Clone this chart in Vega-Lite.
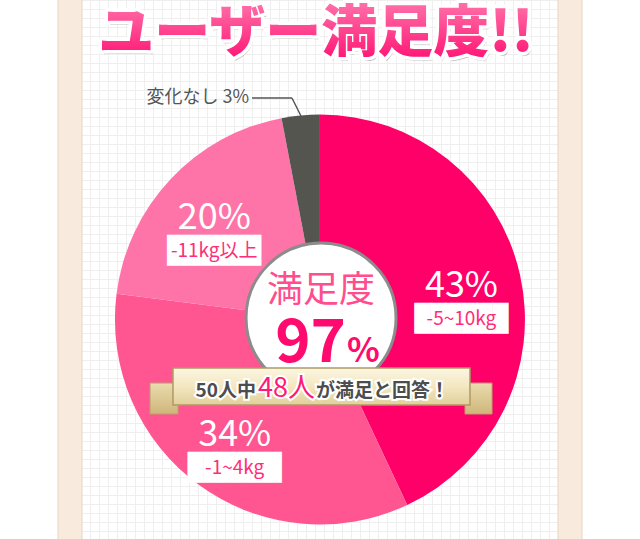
{
  "$schema": "https://vega.github.io/schema/vega-lite/v6.json",
  "width": 639,
  "height": 540,
  "autosize": {"type": "none"},
  "padding": 0,
  "background": "#ffffff",
  "config": {"view": {"stroke": null}, "font": "Noto Sans CJK JP"},
  "datasets": {
    "satisfaction": [
      {"idx": 1, "group": "-5~10kg", "share": 43, "label": "43%"},
      {"idx": 2, "group": "-1~4kg", "share": 34, "label": "34%"},
      {"idx": 3, "group": "-11kg以上", "share": 20, "label": "20%"},
      {"idx": 4, "group": "変化なし", "share": 3, "label": "3%"}
    ],
    "one": [{}]
  },
  "data": {"name": "satisfaction"},
  "layer": [
    {
      "data": {"name": "one"},
      "mark": {"type": "rect", "color": "#ffffff"},
      "encoding": {
        "x": {"datum": 0, "type": "quantitative",
          "scale": {"domain": [0, 71], "nice": false, "zero": false},
          "axis": {"grid": true, "tickCount": 71, "domain": false, "ticks": false, "labels": false, "title": null, "gridColor": "#efefef", "gridWidth": 1}},
        "x2": {"datum": 6.44},
        "y": {"datum": 0, "type": "quantitative",
          "scale": {"domain": [0, 60], "reverse": true, "nice": false, "zero": false},
          "axis": {"grid": true, "tickCount": 60, "domain": false, "ticks": false, "labels": false, "title": null, "gridColor": "#efefef", "gridWidth": 1}},
        "y2": {"datum": 60}
      }
    },
    {
      "data": {"name": "one"},
      "mark": {"type": "rect", "color": "#ffffff"},
      "encoding": {"x": {"datum": 64.67}, "x2": {"datum": 71}, "y": {"datum": 0}, "y2": {"datum": 60}}
    },
    {
      "data": {"name": "one"},
      "mark": {"type": "rect", "fill": "#f8ebdd", "stroke": "#e6d6c4", "strokeWidth": 1},
      "encoding": {"x": {"datum": 6.44}, "x2": {"datum": 9.11}, "y": {"datum": -1}, "y2": {"datum": 61}}
    },
    {
      "data": {"name": "one"},
      "mark": {"type": "rect", "fill": "#f8ebdd", "stroke": "#e6d6c4", "strokeWidth": 1},
      "encoding": {"x": {"datum": 62.0}, "x2": {"datum": 64.67}, "y": {"datum": -1}, "y2": {"datum": 61}}
    },
    {
      "mark": {"type": "arc", "outerRadius": 205},
      "encoding": {
        "x": {"datum": 35.55},
        "y": {"datum": 35.5},
        "theta": {"field": "share", "type": "quantitative", "stack": true},
        "order": {"field": "idx", "type": "quantitative"},
        "color": {"field": "group", "type": "nominal",
          "scale": {"domain": ["-5~10kg", "-1~4kg", "-11kg以上", "変化なし"],
                    "range": ["#ff0068", "#ff5590", "#ff74a8", "#555550"]},
          "legend": null}
      }
    },
    {
      "data": {"name": "one"},
      "mark": {"type": "point", "shape": "circle", "filled": true, "fill": "#ffffff", "stroke": "#8c8c8c", "strokeWidth": 3, "opacity": 1, "size": 22500},
      "encoding": {"x": {"datum": 35.67}, "y": {"datum": 35.33}}
    },
    {
      "transform": [{"filter": "datum.idx < 4"}],
      "mark": {"type": "text", "radius": 145, "dy": -2, "fontSize": 36, "color": "#ffffff", "baseline": "middle"},
      "encoding": {
        "x": {"datum": 35.55},
        "y": {"datum": 35.5},
        "theta": {"field": "share", "type": "quantitative", "stack": true},
        "order": {"field": "idx", "type": "quantitative"},
        "text": {"field": "label"}
      }
    },
    {
      "transform": [{"filter": "datum.idx < 4"}],
      "mark": {"type": "text", "radius": 145, "dy": 31, "fontSize": 26, "font": "DejaVu Sans Mono", "color": "#ffffff", "baseline": "middle", "text": "██████"},
      "encoding": {
        "x": {"datum": 35.55},
        "y": {"datum": 35.5},
        "theta": {"field": "share", "type": "quantitative", "stack": true},
        "order": {"field": "idx", "type": "quantitative"}
      }
    },
    {
      "transform": [{"filter": "datum.idx < 4"}],
      "mark": {"type": "text", "radius": 145, "dy": 31, "fontSize": 19, "color": "#ff2d78", "baseline": "middle"},
      "encoding": {
        "x": {"datum": 35.55},
        "y": {"datum": 35.5},
        "theta": {"field": "share", "type": "quantitative", "stack": true},
        "order": {"field": "idx", "type": "quantitative"},
        "text": {"field": "group"}
      }
    },
    {
      "data": {"name": "one"},
      "mark": {"type": "text", "text": "満足度", "fontSize": 36, "color": "#ff4d8d", "baseline": "middle", "dy": -27},
      "encoding": {"x": {"datum": 35.67}, "y": {"datum": 35.33}}
    },
    {
      "data": {"name": "one"},
      "mark": {"type": "text", "text": "97", "fontSize": 60, "fontWeight": "bold", "color": "#ff0a6e", "align": "right", "baseline": "alphabetic", "dx": 25, "dy": 44},
      "encoding": {"x": {"datum": 35.67}, "y": {"datum": 35.33}}
    },
    {
      "data": {"name": "one"},
      "mark": {"type": "text", "text": "%", "fontSize": 34, "fontWeight": "bold", "color": "#ff0a6e", "align": "left", "baseline": "alphabetic", "dx": 26, "dy": 44},
      "encoding": {"x": {"datum": 35.67}, "y": {"datum": 35.33}}
    },
    {
      "data": {"name": "one"},
      "mark": {"type": "rect", "stroke": "#b8a26f", "strokeWidth": 1,
        "fill": {"gradient": "linear", "x1": 0, "y1": 0, "x2": 0, "y2": 1,
          "stops": [{"offset": 0, "color": "#eadcae"}, {"offset": 1, "color": "#cfb67a"}]}},
      "encoding": {"x": {"datum": 16.67}, "x2": {"datum": 19.78}, "y": {"datum": 42.56}, "y2": {"datum": 46.0}}
    },
    {
      "data": {"name": "one"},
      "mark": {"type": "rect", "stroke": "#b8a26f", "strokeWidth": 1,
        "fill": {"gradient": "linear", "x1": 0, "y1": 0, "x2": 0, "y2": 1,
          "stops": [{"offset": 0, "color": "#eadcae"}, {"offset": 1, "color": "#cfb67a"}]}},
      "encoding": {"x": {"datum": 51.67}, "x2": {"datum": 54.67}, "y": {"datum": 42.56}, "y2": {"datum": 46.0}}
    },
    {
      "data": {"name": "one"},
      "mark": {"type": "rect", "stroke": "#b09a66", "strokeWidth": 1.5,
        "fill": {"gradient": "linear", "x1": 0, "y1": 0, "x2": 0, "y2": 1,
          "stops": [{"offset": 0, "color": "#fcf6e2"}, {"offset": 0.5, "color": "#f3e7c2"}, {"offset": 1, "color": "#e2cf9a"}]}},
      "encoding": {"x": {"datum": 19.22}, "x2": {"datum": 52.22}, "y": {"datum": 40.89}, "y2": {"datum": 45.0}}
    },
    {
      "data": {"name": "one"},
      "mark": {"type": "text", "text": "50人中", "fontSize": 19, "fontWeight": "bold", "color": "#ffffff", "stroke": "#ffffff", "strokeWidth": 4, "align": "right", "baseline": "alphabetic"},
      "encoding": {"x": {"datum": 28.44}, "y": {"datum": 44.11}}
    },
    {
      "data": {"name": "one"},
      "mark": {"type": "text", "text": "が満足と回答！", "fontSize": 19, "fontWeight": "bold", "color": "#ffffff", "stroke": "#ffffff", "strokeWidth": 4, "align": "left", "baseline": "alphabetic"},
      "encoding": {"x": {"datum": 35.11}, "y": {"datum": 44.11}}
    },
    {
      "data": {"name": "one"},
      "mark": {"type": "text", "text": "48人", "fontSize": 27, "color": "#ffffff", "stroke": "#ffffff", "strokeWidth": 4, "align": "left", "baseline": "alphabetic"},
      "encoding": {"x": {"datum": 28.67}, "y": {"datum": 44.11}}
    },
    {
      "data": {"name": "one"},
      "mark": {"type": "text", "text": "50人中", "fontSize": 19, "fontWeight": "bold", "color": "#4d4d4d", "align": "right", "baseline": "alphabetic"},
      "encoding": {"x": {"datum": 28.44}, "y": {"datum": 44.11}}
    },
    {
      "data": {"name": "one"},
      "mark": {"type": "text", "text": "が満足と回答！", "fontSize": 19, "fontWeight": "bold", "color": "#4d4d4d", "align": "left", "baseline": "alphabetic"},
      "encoding": {"x": {"datum": 35.11}, "y": {"datum": 44.11}}
    },
    {
      "data": {"name": "one"},
      "mark": {"type": "text", "text": "48人", "fontSize": 27, "color": "#ff1a78", "align": "left", "baseline": "alphabetic"},
      "encoding": {"x": {"datum": 28.67}, "y": {"datum": 44.11}}
    },
    {
      "transform": [{"filter": "datum.idx == 4"}, {"calculate": "datum.group + ' ' + datum.label", "as": "callout"}],
      "mark": {"type": "text", "fontSize": 18, "color": "#555555", "align": "right", "baseline": "middle"},
      "encoding": {"x": {"datum": 27.67}, "y": {"datum": 10.89}, "text": {"field": "callout"}}
    },
    {
      "data": {"name": "one"},
      "mark": {"type": "rule", "color": "#555555", "strokeWidth": 1.5},
      "encoding": {"x": {"datum": 28.0}, "x2": {"datum": 32.44}, "y": {"datum": 10.89}}
    },
    {
      "data": {"name": "one"},
      "mark": {"type": "rule", "color": "#555555", "strokeWidth": 1.5},
      "encoding": {"x": {"datum": 32.44}, "x2": {"datum": 33.44}, "y": {"datum": 10.89}, "y2": {"datum": 12.89}}
    },
    {
      "data": {"name": "one"},
      "mark": {"type": "text", "text": "ユーザー満足度!!", "fontSize": 56, "fontWeight": 900, "color": "#9a9a9a", "opacity": 0.6, "baseline": "middle", "dx": 2, "dy": 4},
      "encoding": {"x": {"datum": 35.11}, "y": {"datum": 3.78}}
    },
    {
      "data": {"name": "one"},
      "mark": {"type": "text", "text": "ユーザー満足度!!", "fontSize": 56, "fontWeight": 900, "color": "#ffffff", "stroke": "#ffffff", "strokeWidth": 7, "strokeJoin": "round", "baseline": "middle"},
      "encoding": {"x": {"datum": 35.11}, "y": {"datum": 3.78}}
    },
    {
      "data": {"name": "one"},
      "mark": {"type": "text", "text": "ユーザー満足度!!", "fontSize": 56, "fontWeight": 900, "baseline": "middle",
        "fill": {"gradient": "linear", "x1": 0, "y1": 0, "x2": 0, "y2": 1,
          "stops": [{"offset": 0, "color": "#ff8ab8"}, {"offset": 1, "color": "#ff0a6e"}]}},
      "encoding": {"x": {"datum": 35.11}, "y": {"datum": 3.78}}
    }
  ]
}
